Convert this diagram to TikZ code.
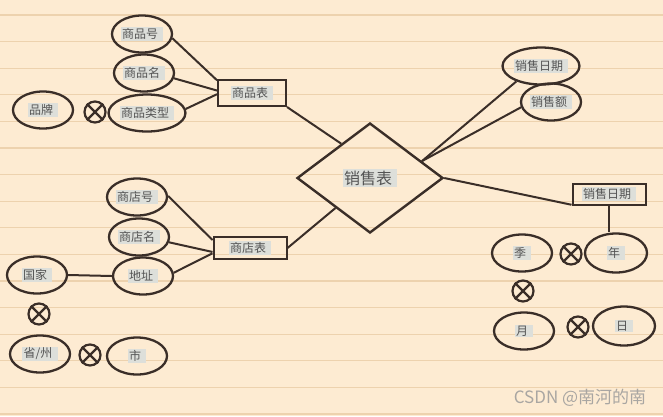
\documentclass[tikz,border=0pt]{standalone}
\usepackage{fontspec}
\setmainfont{Noto Sans CJK SC}
\usetikzlibrary{shapes.geometric}
\definecolor{paper}{HTML}{FDEBD2}
\definecolor{rule}{HTML}{EDD2AE}
\definecolor{ink}{HTML}{3A2E28}
\definecolor{txt}{HTML}{545454}
\definecolor{hlc}{HTML}{DDDFDA}
\definecolor{wm}{HTML}{A9A6A2}
\newcommand\hlt[1]{{\setlength{\fboxsep}{1.2pt}\colorbox{hlc}{#1\hspace{4pt}}}}
\tikzset{
  attr/.style={ellipse, draw=ink, line width=2.3pt, inner sep=0pt,
    minimum width=60pt, minimum height=37pt, font=\fontsize{12}{12}\selectfont, text=txt},
  ent/.style={rectangle, draw=ink, line width=2pt, inner sep=0pt,
    minimum width=70pt, minimum height=22pt, font=\fontsize{12}{12}\selectfont, text=txt},
  rel/.style={diamond, draw=ink, line width=2.4pt, inner sep=0pt,
    minimum width=146pt, minimum height=110pt, font=\fontsize{16}{16}\selectfont, text=txt},
  otimes/.style={circle, draw=ink, line width=2.2pt, inner sep=0pt, minimum size=21pt},
  conn/.style={draw=ink, line width=2pt},
}
\newcommand\crossin[1]{\draw[ink, line width=2.2pt] (#1.45) -- (#1.225) (#1.135) -- (#1.315);}
\begin{document}
\begin{tikzpicture}[x=1pt,y=-1pt]
\fill[paper] (0,0) rectangle (663,416);
\useasboundingbox (0,0) rectangle (663,416);
\foreach \k in {0,...,15}{
  \draw[rule, line width=1.2pt] (0,{15+26.6*\k}) -- (663,{15+26.6*\k});
}
% goods
\node[attr] (spnum) at (142,34) {\hlt{商品号}};
\node[attr] (spname) at (144,73) {\hlt{商品名}};
\node[attr] (sptype) at (147,113) {\hlt{商品类型}};
\node[attr] (brand) at (43,110) {\hlt{品牌}};
\node[otimes] (x1) at (95,112) {};
\crossin{x1}
\node[ent, minimum width=68pt, minimum height=26pt] (spb) at (252,93) {\hlt{商品表}};
% store
\node[attr] (sdnum) at (137,197) {\hlt{商店号}};
\node[attr] (sdname) at (139,237) {\hlt{商店名}};
\node[attr] (addr) at (143,276) {\hlt{地址}};
\node[attr] (country) at (37,275) {\hlt{国家}};
\node[otimes] (x2) at (39,314) {};
\crossin{x2}
\node[attr] (prov) at (40,354) {\hlt{省/州}};
\node[otimes] (x3) at (90,355) {};
\crossin{x3}
\node[attr] (city) at (137,356) {\hlt{市}};
\node[ent, minimum width=73pt] (sdb) at (250,248) {\hlt{商店表}};
% relation
\node[rel] (dm) at (370,178) {\hlt{销售表}};
\node[attr] (sdate) at (541,66) {\hlt{销售日期}};
\node[attr] (samt) at (551,102) {\hlt{销售额}};
\node[ent, minimum width=73pt, minimum height=21pt] (sr) at (609,194) {\hlt{销售日期}};
% date
\node[attr] (season) at (522,253) {\hlt{季}};
\node[otimes] (x4) at (571,254) {};
\crossin{x4}
\node[attr, minimum width=62pt, minimum height=39pt] (year) at (616,253) {\hlt{年}};
\node[otimes] (x5) at (523,291) {};
\crossin{x5}
\node[attr] (month) at (524,331) {\hlt{月}};
\node[otimes] (x6) at (578,327) {};
\crossin{x6}
\node[attr, minimum width=62pt, minimum height=39pt] (day) at (624,326) {\hlt{日}};
% connectors
\draw[conn] (spnum.-8) -- (spb.160);
\draw[conn] (spname.-10) -- (spb.176);
\draw[conn] (sptype.6) -- (spb.182);
\draw[conn] (spb.south east) -- (dm.130);
\draw[conn] (sdnum.2) -- (sdb.168);
\draw[conn] (sdname.-10) -- (sdb.186);
\draw[conn] (addr.6) -- (sdb.188);
\draw[conn] (country.east) -- (addr.west);
\draw[conn] (sdb.east) -- (dm.221);
\draw[conn] (dm.18) -- (sdate.212);
\draw[conn] (dm.18) -- (samt.190);
\draw[conn] (dm.east) -- (sr.196);
\draw[conn] (sr.south) -- (sr.south |- year.north);
% watermark
\node[text=wm, font=\fontsize{17}{17}\selectfont, inner sep=0pt] (wmk) at (580,398) {CSDN @南河的南};
\end{tikzpicture}
\end{document}
